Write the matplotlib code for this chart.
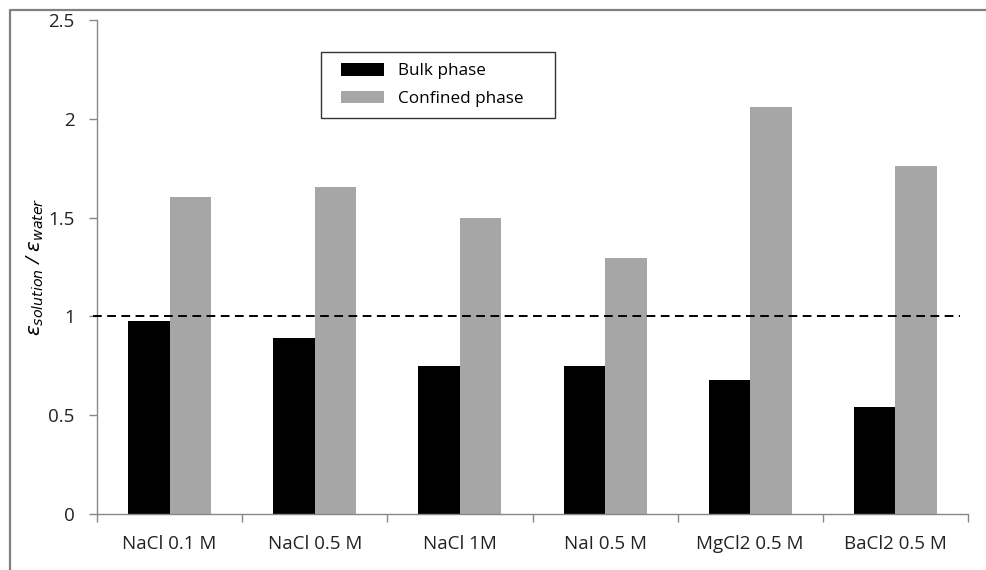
import matplotlib
matplotlib.use("Agg")
import matplotlib.pyplot as plt
import numpy as np
from matplotlib.lines import Line2D
from matplotlib.patches import Rectangle

categories = ["NaCl 0.1 M", "NaCl 0.5 M", "NaCl 1M", "NaI 0.5 M", "MgCl2 0.5 M", "BaCl2 0.5 M"]
bulk = [0.975, 0.89, 0.748, 0.748, 0.678, 0.542]
confined = [1.602, 1.657, 1.50, 1.298, 2.062, 1.760]
yticks = [0, 0.5, 1, 1.5, 2, 2.5]
ytick_labels = ["0", "0.5", "1", "1.5", "2", "2.5"]

plt.rcParams['font.family'] = ['Open Sans', 'DejaVu Sans']

W, H = 986, 570
fig = plt.figure(figsize=(W/100, H/100), dpi=100)
ax = fig.add_axes([97/W, 1-514/H, (968-97)/W, (514-20)/H])

x = np.arange(len(categories))
w = 0.286
ax.bar(x - w/2, bulk, w, color="black", label="Bulk phase", zorder=2)
ax.bar(x + w/2, confined, w, color="#a6a6a6", label="Confined phase", zorder=2)

ax.axhline(1, xmin=-0.005, xmax=0.991, color="black", lw=1.4, dashes=(4.5, 2.8), zorder=3, clip_on=False)

ax.set_xlim(-0.5, len(categories) - 0.5)
ax.set_ylim(0, 2.5)
ax.set_yticks(yticks)
ax.set_yticklabels(ytick_labels, fontsize=13.5, color="#222222")
ax.set_xticks(x)
ax.set_xticklabels(categories, fontsize=13.5, color="#222222")
ax.tick_params(axis='x', which='major', length=0, pad=15)
ax.set_xticks(np.arange(len(categories) + 1) - 0.5, minor=True)
ax.tick_params(axis='x', which='minor', length=6, color="#888888", width=1)
ax.tick_params(axis='y', length=6, color="#888888", width=1, pad=10)

for s in ["top", "right"]:
    ax.spines[s].set_visible(False)
for s in ["left", "bottom"]:
    ax.spines[s].set_color("#888888")
    ax.spines[s].set_linewidth(1)

ax.set_ylabel(r"$\varepsilon_{solution}$ / $\varepsilon_{water}$", fontsize=14.5, style="italic", labelpad=2)

# legend (frame drawn separately to match the box proportions)
leg = ax.legend(loc="upper left", bbox_to_anchor=(341/W, 1-63/H),
                bbox_transform=fig.transFigure,
                borderaxespad=0, frameon=False, fontsize=12.3,
                handlelength=2.5, handleheight=0.75, handletextpad=0.85,
                borderpad=0, labelspacing=0.68)
leg.set_zorder(5)
fig.add_artist(Rectangle((321/W, 1-118/H), (555-321)/W, (118-52)/H,
                         transform=fig.transFigure, fill=False,
                         edgecolor="#333333", lw=1))

# outer frame (left and top border)
fig.add_artist(Line2D([10/W, 10/W, 1.0], [0.0, 1-9.5/H, 1-9.5/H],
                      transform=fig.transFigure, color="#808080", lw=1.6))

fig.savefig("out.png", dpi=100)
